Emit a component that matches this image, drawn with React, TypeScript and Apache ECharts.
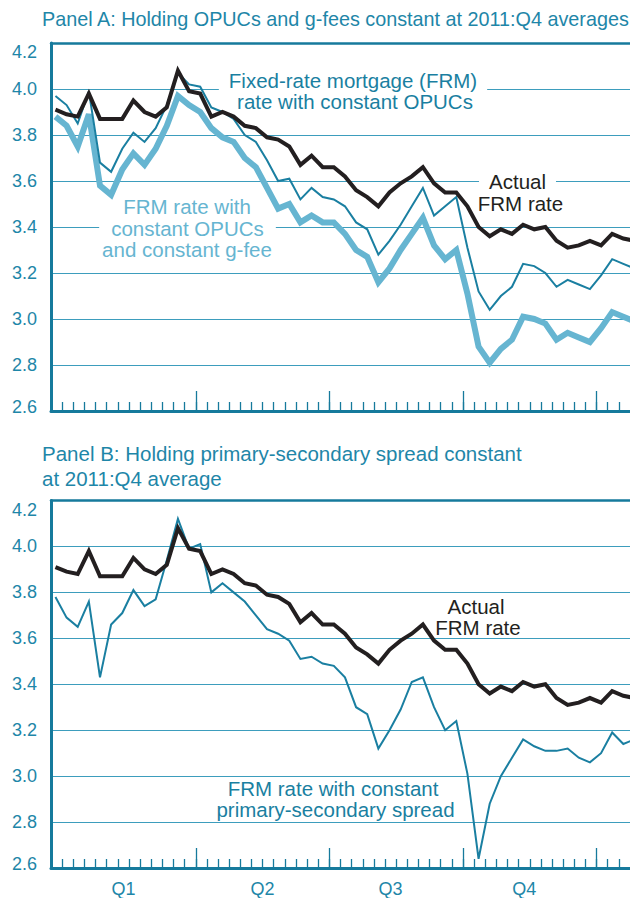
import React, { useEffect, useRef } from 'react';
import * as echarts from 'echarts';

// Weekly observations, 2012 (first week of January through first week of the next year)
const actualFRM = [
  3.91, 3.89, 3.88, 3.98, 3.87, 3.87, 3.87, 3.95, 3.90, 3.88, 3.92, 4.08, 3.99,
  3.98, 3.88, 3.90, 3.88, 3.84, 3.83, 3.79, 3.78, 3.75, 3.67, 3.71, 3.66, 3.66,
  3.62, 3.56, 3.53, 3.49, 3.55, 3.59, 3.62, 3.66, 3.59, 3.55, 3.55, 3.49, 3.40,
  3.36, 3.39, 3.37, 3.41, 3.39, 3.40, 3.34, 3.31, 3.32, 3.34, 3.32, 3.37, 3.35, 3.34,
];
const frmConstOPUC = [
  3.97, 3.93, 3.85, 3.99, 3.68, 3.64, 3.74, 3.81, 3.77, 3.83, 3.93, 4.07, 4.02,
  4.01, 3.92, 3.90, 3.87, 3.80, 3.77, 3.69, 3.60, 3.61, 3.52, 3.57, 3.53, 3.52,
  3.49, 3.42, 3.39, 3.28, 3.34, 3.41, 3.49, 3.57, 3.45, 3.49, 3.53, 3.31, 3.12,
  3.04, 3.10, 3.14, 3.24, 3.23, 3.20, 3.14, 3.17, 3.15, 3.13, 3.19, 3.26, 3.24, 3.22,
];
const frmConstOPUCgFee = [
  3.88, 3.84, 3.75, 3.89, 3.58, 3.54, 3.65, 3.72, 3.67, 3.74, 3.84, 3.97, 3.93,
  3.90, 3.83, 3.79, 3.77, 3.70, 3.66, 3.57, 3.48, 3.50, 3.42, 3.45, 3.42, 3.42,
  3.37, 3.30, 3.27, 3.16, 3.22, 3.30, 3.37, 3.44, 3.32, 3.26, 3.30, 3.11, 2.88,
  2.81, 2.87, 2.91, 3.01, 3.00, 2.98, 2.91, 2.94, 2.92, 2.90, 2.96, 3.03, 3.01, 2.99,
];
const frmConstSpread = [
  3.78, 3.69, 3.65, 3.76, 3.43, 3.66, 3.71, 3.81, 3.74, 3.77, 3.94, 4.12, 3.99,
  4.01, 3.80, 3.84, 3.80, 3.76, 3.70, 3.64, 3.62, 3.59, 3.51, 3.52, 3.49, 3.48,
  3.43, 3.30, 3.27, 3.12, 3.20, 3.29, 3.41, 3.43, 3.30, 3.20, 3.24, 3.01, 2.64,
  2.88, 3.00, 3.08, 3.16, 3.13, 3.11, 3.11, 3.12, 3.08, 3.06, 3.10, 3.19, 3.14, 3.16,
];

const quarterLabels = ['Q1', 'Q2', 'Q3', 'Q4'];
const quarterLabelWeeks = [6.5, 19, 30.5, 42.5];
const quarterTickWeeks = [13, 25, 37, 49];
const weekTicks = Array.from({ length: 51 }, (_, i) => i + 1);

const FONT = '"Liberation Sans", Arial, Helvetica, sans-serif';
const TEAL_TEXT = '#1e86a8';
const AXIS = '#167a9c';
const GRID = '#3d9dbd';
const THIN = '#1a7fa1';
const LIGHT = '#66b5d1';
const BLACK = '#231f20';
const WEEK_OFFSET = 0.4;

const toPoints = (vals: number[]) => vals.map((v, i) => [i + WEEK_OFFSET, v]);

function xAxesFor(g: number, withLabels: boolean) {
  return [
    {
      type: 'value', gridIndex: g, min: 0, max: 52, position: 'bottom',
      axisLine: { show: true, onZero: false, lineStyle: { color: AXIS, width: 3 } },
      axisTick: { show: true, inside: true, length: 9, customValues: weekTicks, lineStyle: { color: AXIS, width: 1.3 } },
      axisLabel: { show: false },
      splitLine: { show: false },
    },
    {
      type: 'value', gridIndex: g, min: 0, max: 52, position: 'bottom',
      axisLine: { show: false, onZero: false },
      axisTick: { show: true, inside: true, length: 20, customValues: quarterTickWeeks, lineStyle: { color: AXIS, width: 1.3 } },
      axisLabel: withLabels
        ? {
            show: true,
            customValues: quarterLabelWeeks,
            formatter: (v: number) => {
              const i = quarterLabelWeeks.indexOf(v);
              return i >= 0 ? quarterLabels[i] : '';
            },
            color: TEAL_TEXT, fontSize: 18, fontFamily: FONT, margin: 12,
          }
        : { show: false },
      splitLine: { show: false },
    },
    {
      type: 'value', gridIndex: g, min: 0, max: 52, position: 'top',
      axisLine: { show: true, onZero: false, lineStyle: { color: AXIS, width: 2.5 } },
      axisTick: { show: false },
      axisLabel: { show: false },
      splitLine: { show: false },
    },
  ];
}

function yAxisFor(g: number) {
  const lbl = { color: TEAL_TEXT, fontSize: 18, fontFamily: FONT };
  return {
    type: 'value', gridIndex: g, min: 2.6, max: 4.2, interval: 0.2,
    axisLine: { show: true, onZero: false, lineStyle: { color: AXIS, width: 3 } },
    axisTick: { show: false },
    splitLine: { show: true, lineStyle: { color: GRID, width: 1.2 } },
    axisLabel: {
      ...lbl,
      margin: 14,
      formatter: (v: number) => {
        const s = v.toFixed(1);
        if (Math.abs(v - 4.2) < 1e-6) return `{top|${s}}`;
        if (Math.abs(v - 2.6) < 1e-6) return `{bot|${s}}`;
        return s;
      },
      rich: {
        top: { ...lbl, padding: [18, 0, 0, 0] },
        bot: { ...lbl, padding: [0, 0, 8, 0] },
      },
    },
  };
}

function lineSeries(name: string, vals: number[], xi: number, yi: number, color: string, width: number) {
  return {
    name, type: 'line', xAxisIndex: xi, yAxisIndex: yi, data: toPoints(vals),
    showSymbol: false, symbol: 'none', clip: true, z: 2,
    lineStyle: { color, width, join: 'miter' },
  };
}

function txt(text: string, x: number, y: number, fill: string, opts: any = {}) {
  return {
    type: 'text', x, y, z: 1, silent: true,
    style: {
      text, fill,
      fontSize: opts.fontSize ?? 20.5,
      fontFamily: FONT,
      align: opts.align ?? 'center', textAlign: opts.align ?? 'center',
      verticalAlign: 'middle', textVerticalAlign: 'middle',
      lineHeight: opts.lineHeight,
      backgroundColor: opts.bg ? '#ffffff' : undefined,
      padding: opts.bg ? opts.pad : undefined,
    },
  };
}

export default function App() {
  const ref = useRef<HTMLDivElement>(null);

  useEffect(() => {
    if (!ref.current) return;
    const chart = echarts.init(ref.current, undefined, { renderer: 'svg' });
    chart.setOption({
      animation: false,
      backgroundColor: '#ffffff',
      grid: [
        { left: 51, top: 43, width: 579, height: 368, containLabel: false },
        { left: 51, top: 500.5, width: 579, height: 368, containLabel: false },
      ],
      xAxis: [...xAxesFor(0, false), ...xAxesFor(1, true)],
      yAxis: [yAxisFor(0), yAxisFor(1)],
      series: [
        lineSeries('FRM rate with constant OPUCs and constant g-fee', frmConstOPUCgFee, 0, 0, LIGHT, 6),
        lineSeries('Fixed-rate mortgage (FRM) rate with constant OPUCs', frmConstOPUC, 0, 0, THIN, 2),
        lineSeries('Actual FRM rate', actualFRM, 0, 0, BLACK, 4),
        lineSeries('FRM rate with constant primary-secondary spread', frmConstSpread, 3, 1, THIN, 2),
        lineSeries('Actual FRM rate (B)', actualFRM, 3, 1, BLACK, 4),
      ],
      graphic: {
        elements: [
          txt('Panel A: Holding OPUCs and g-fees constant at 2011:Q4 averages', 42, 19, TEAL_TEXT, { align: 'left', fontSize: 19.8 }),
          txt('Panel B: Holding primary-secondary spread constant\nat 2011:Q4 average', 42, 465.5, TEAL_TEXT, { align: 'left', fontSize: 20.5, lineHeight: 25 }),
          txt('Fixed-rate mortgage (FRM)', 353, 80, THIN, { bg: true, pad: [1, 10, 1, 10] }),
          txt('rate with constant OPUCs', 355, 101.5, THIN),
          txt('Actual', 517.5, 181.5, BLACK, { bg: true, pad: [1, 10, 1, 10] }),
          txt('FRM rate', 520.5, 203, BLACK),
          txt('FRM rate with', 187, 206.5, LIGHT),
          txt('constant OPUCs', 187.5, 228, LIGHT, { bg: true, pad: [0, 12, 0, 12] }),
          txt('and constant g-fee', 187, 249.5, LIGHT),
          txt('Actual', 476, 606, BLACK),
          txt('FRM rate', 478, 627.5, BLACK),
          txt('FRM rate with constant', 333, 788, THIN),
          txt('primary-secondary spread', 335.5, 809.5, THIN),
        ],
      },
    });
    return () => chart.dispose();
  }, []);

  return (
    <div
      ref={ref}
      style={{ position: 'fixed', left: 0, top: 0, width: 630, height: 898, background: '#fff' }}
    />
  );
}
